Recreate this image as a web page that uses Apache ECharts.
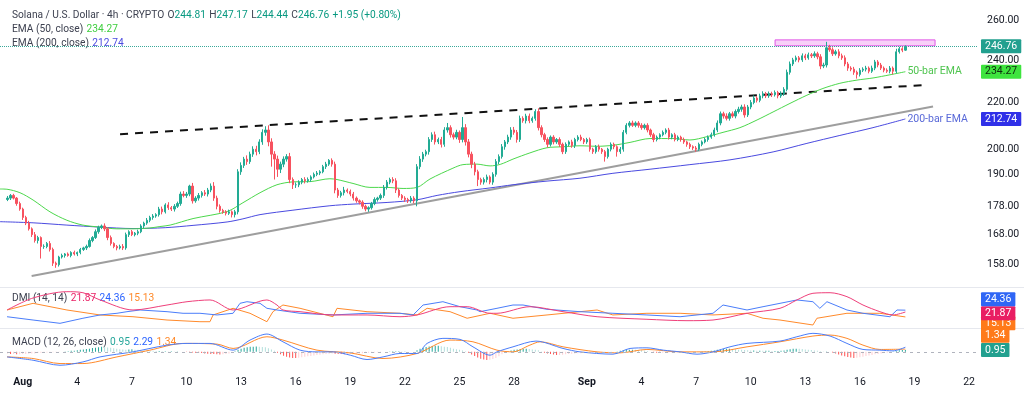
<!DOCTYPE html>
<html><head><meta charset="utf-8">
<script src="https://cdn.jsdelivr.net/npm/echarts@6/dist/echarts.min.js"></script>
<style>html,body{margin:0;padding:0;background:#fff}#c{width:1024px;height:394px}</style>
</head><body><div id="c"></div>
<script>
// ---------- DATA (days since Aug 1 00:00, 4h candles) ----------
const firstTime = -5/6;
const barStep = 1/6;
const firstOpen = 180.5;
const closes = [
181,182,181,179,177,174,
172,170,168,166,167,164,
164,165,163,158.5,158,160.5,
161,161.5,161,162,161.5,162,
163,163.5,164,166,167,169,
170.5,171,170,167,165,164,
163.5,164,163.5,168,169,168,
168.5,169,171,172,173,174,
174.5,175,177,176,178.5,177.5,
177,178,179,182.5,182,182.5,
185.5,180,181,182,183,182.5,
184,185.5,181,178,176.5,176,
175.5,176,175,176,191,193.5,
196,195,198,200,199,203,
207,208,203,198,196,192,
194,196,197,188,186,186,
187,188,187.5,188,189,190,
190.5,191,193,194,195.5,194,
184,182,183,184,183.5,182.5,
181,180,179.5,178,177,177.5,
179,180.5,181,182,185,187,
188,187.5,184,182,181,180.5,
180,181,180,193,196,198,
199,204,206,203,204,202,
208,209,206,205,207,204,
209,203,198,194,191,188,
187,188,189,187,190,195,
197,201,203,205,208,207,
204,213,212,214,212,213,
216,209,206,204,202,205,
203,204,202,199,202,203,
201.5,204,205,204,203,204,
200,199,201,200,199,197,
200,202,201,199,200,207,
210,211,210,211,210,209,
210,208,206,204,205,206,
207,208,205,206,204,205,
204,203,202,201,200.5,200,
202,203,204,205,206,208,
211,215,214,213,215,214,
216,217,218,214.5,218,220,
222,221,223,224,223,224,
223.5,224.5,223,224,226,234,
238,240,241,240,242,241,
242.5,242,243,241.5,237,237.5,
246,245,243,244,242,241,
238,236,235.5,234,233,235,
235.5,236,234.5,236,239,237.5,
236,235,234.5,236,234.5,244,
245.5,244.81,246.76
];
const upWick = [
0.8,0.5,0.6,0.4,0.7,0.5, 0.6,0.8,0.5,0.9,0.6,0.4, 0.7,0.5,0.8,0.6,0.5,0.4,
0.6,0.3,0.5,0.4,0.6,0.3, 0.5,0.4,0.6,0.7,0.5,0.8, 0.6,0.5,0.9,0.6,0.7,0.4,
0.5,0.6,0.8,0.7,0.5,0.6, 0.4,0.7,0.6,0.5,0.8,0.6, 0.7,0.5,0.8,0.9,0.6,1.0,
0.6,0.8,0.7,0.9,1.1,0.8, 0.5,1.2,0.7,0.9,0.6,1.0, 0.8,1.0,1.5,0.9,0.7,0.6,
0.6,0.8,0.5,0.7,1.0,1.2, 0.9,1.5,1.0,1.2,1.4,1.1, 1.3,1.6,2.0,1.5,1.2,1.4,
1.0,1.1,1.0,1.5,0.8,0.9, 0.7,0.6,0.9,0.8,0.6,0.7, 0.8,0.6,0.7,0.9,0.5,0.8,
1.0,0.8,0.7,1.2,0.6,0.7, 0.8,0.6,0.5,0.7,0.6,0.5, 0.6,0.8,0.5,0.7,0.9,0.8,
0.7,0.9,1.0,0.6,0.5,0.7, 0.6,0.8,0.7,1.0,1.2,0.9, 0.8,1.0,1.0,1.3,0.8,1.1,
1.2,2.0,1.0,0.9,1.1,0.8, 4.6,1.5,1.2,1.0,0.9,0.8, 0.7,0.8,0.9,0.6,0.8,1.0,
0.9,1.1,0.8,1.0,1.2,1.3, 1.0,1.2,0.9,1.0,1.1,0.8, 1.0,1.4,1.0,0.8,0.9,0.7,
0.8,0.6,0.9,0.7,0.8,0.6, 0.9,0.7,0.8,1.0,0.6,0.7, 0.8,0.6,0.7,0.9,0.5,0.7,
0.6,0.8,0.7,0.6,0.9,1.0, 0.9,0.8,1.0,0.7,0.8,0.9, 0.7,0.9,0.6,0.8,0.7,0.6,
0.8,0.7,0.9,0.6,0.8,0.7, 0.6,0.8,0.5,0.7,0.6,0.8, 0.7,0.6,0.8,0.7,0.9,1.0,
1.1,1.0,0.9,1.2,0.8,1.0, 0.9,1.1,1.0,1.2,0.9,1.1, 1.2,0.9,1.0,1.1,0.8,1.0,
0.9,1.0,0.8,1.1,1.0,1.3, 1.2,1.0,1.1,0.9,1.2,1.0, 1.1,0.9,1.2,1.0,1.3,1.1,
3.0,1.5,1.2,1.0,1.3,1.1, 1.2,1.0,0.9,1.1,0.8,1.0, 0.9,1.1,0.8,1.2,1.0,0.9,
1.0,0.8,0.9,1.0,0.8,1.5, 1.0,0.8,0.41
];
const downWick = [
0.6,0.7,0.5,0.8,0.6,0.9, 0.7,0.6,0.8,0.7,1.0,4.0, 0.8,0.6,0.7,0.9,1.0,0.6,
0.5,0.7,0.4,0.6,0.5,0.7, 0.6,0.5,0.7,0.4,0.6,0.5, 0.7,0.6,0.8,0.9,0.7,0.6,
0.8,0.5,0.7,0.6,0.8,0.5, 0.6,0.7,0.5,0.8,0.6,0.7, 0.8,0.6,0.7,0.9,0.6,0.8,
0.7,0.9,0.6,0.8,0.7,0.9, 0.8,1.0,0.7,0.9,0.8,0.7, 0.9,0.8,1.0,1.1,0.8,0.7,
0.8,0.6,1.0,1.0,0.9,1.2, 1.0,1.3,0.9,1.1,1.5,1.0, 1.2,1.4,1.8,5.0,8.0,3.0,
1.5,1.2,1.0,1.4,1.6,1.2, 0.9,0.8,1.0,0.7,0.9,0.6, 0.7,0.8,0.6,0.9,0.7,1.0,
1.2,0.9,0.8,1.0,0.7,0.8, 0.9,0.7,0.8,0.9,0.8,1.0, 0.7,0.6,0.8,0.7,0.9,0.8,
0.8,0.9,1.1,0.8,0.7,0.9, 0.8,0.7,0.9,2.0,1.0,1.1, 0.9,1.2,1.0,1.1,0.9,1.3,
1.0,1.1,1.2,1.0,0.9,1.4, 1.2,1.5,1.3,1.6,1.4,2.5, 1.0,0.9,1.1,0.8,1.0,0.9,
1.0,0.8,1.2,0.9,1.1,1.0, 1.3,1.0,0.9,1.2,1.1,0.9, 1.0,1.2,1.1,1.0,1.3,0.9,
1.0,0.8,1.1,1.0,0.9,0.8, 0.9,1.0,0.8,0.7,0.9,0.8, 1.0,0.9,0.8,1.0,0.9,2.0,
0.8,0.9,1.0,2.0,0.9,1.0, 0.8,0.9,0.7,0.8,1.0,0.9, 0.8,1.0,0.9,1.1,0.8,0.9,
0.7,0.8,1.0,0.9,0.8,0.7, 0.9,0.8,1.0,0.9,0.8,1.0, 0.7,0.8,0.6,0.9,0.7,0.8,
0.9,1.0,1.1,0.9,1.0,0.8, 1.0,0.9,1.1,1.2,0.9,1.0, 0.8,1.0,0.9,1.1,1.0,0.9,
1.0,0.8,1.1,0.9,1.0,0.9, 1.1,1.0,0.9,1.2,1.0,1.1, 0.9,1.1,1.0,1.2,1.5,1.0,
1.2,1.0,1.1,0.9,1.2,1.0, 1.1,1.3,1.0,1.2,2.0,1.0, 0.9,1.1,1.0,0.8,1.0,1.1,
0.9,1.0,0.8,1.0,1.5,1.0, 0.9,1.0,0.37
];
const ema50 = [[-1.25,184.4],[-0.86,184.3],[-0.15,183],[0.57,180.3],[1.5,176],[2.43,173],[3.31,171.3],[4.25,170.6],[5.18,170],[6.06,170],[6.99,170.3],[7.54,170.8],[8.1,171.3],[9.36,173.6],[11.23,176.1],[12.1,179.3],[13.04,183],[13.97,186],[14.85,187.1],[15.79,187.2],[16.88,188.3],[17.27,188],[18.15,186.5],[19.08,185],[20.02,185],[20.9,184.6],[21.67,185],[22.38,188.2],[23.64,192.4],[24.19,193.8],[24.96,194],[25.68,193.3],[26.24,193.9],[26.94,196],[27.87,198.5],[28.81,200.6],[29.69,201],[30.62,201.4],[31.56,201.2],[32.43,201.6],[33.37,202.8],[34.47,204.4],[35.73,204.4],[36.66,203.8],[37.6,205.2],[38.48,207],[39.41,209],[40.35,212.3],[41.23,215.8],[42.16,219.6],[43.09,223.3],[43.97,226.4],[44.9,228.8],[45.84,230.3],[46.72,231.3],[47.65,232.8],[48.5,234.27]];
const ema200 = [[-1.25,172.5],[0.57,172.1],[2.43,171.3],[4.25,170.6],[6.06,170.1],[7.83,170.4],[9.36,171.2],[11.23,172.4],[12.1,173.5],[13.04,175],[14.85,176.6],[16.88,178.2],[18.15,178.8],[20.02,179.4],[21.67,180.4],[22.77,182],[24.03,183.4],[25.68,184.8],[26.94,186],[28.81,187.4],[30.62,188.5],[32.43,190.4],[34.47,192],[36.66,193.8],[38.86,195.7],[41.23,198.9],[43.09,202.4],[44.9,205.7],[46.72,209],[48.5,212.74]];
const adx = [[-0.86,24.6],[0.57,41],[2.43,49.6],[3.31,48.2],[4.25,38.3],[6.06,24.6],[7.93,31.4],[9.03,35.9],[10.29,38.3],[11.56,24.6],[13.42,38.3],[13.97,31.4],[14.3,24.6],[15.24,22.3],[17.05,17.8],[18.92,17.8],[20.73,15.4],[21.67,17.8],[23.48,29.1],[24.42,29.1],[25.68,20.1],[26.06,20.1],[27.87,29.1],[29.69,22.3],[31.56,15.4],[34.3,11.9],[36.5,10],[37.93,10.9],[39.8,20.1],[41.61,26.9],[42.54,38.3],[43.42,47.4],[44.36,48.2],[45.29,42.8],[46.17,31.4],[47.1,22.3],[47.82,17.8],[48.5,21.87]];
const plusDI = [[-0.86,15.4],[0.57,10.9],[2.05,6.4],[3.31,13.3],[4.25,17.8],[5.18,20.1],[5.73,22.3],[6.45,24.6],[7.93,22.3],[8.81,20.1],[9.74,20.1],[10.68,17.8],[11.56,20.1],[11.94,33.7],[12.32,35.9],[13.04,33.7],[13.42,26.9],[13.97,24.6],[15.24,20.1],[17.05,17.8],[18.92,20.1],[20.73,20.1],[21.45,17.8],[22.0,31.4],[23.09,35.9],[24.03,29.1],[24.96,24.6],[25.13,22.3],[26.06,26.9],[26.94,31.4],[27.49,31.4],[28.81,25.5],[30.62,22.3],[32.43,20.1],[34.3,17.8],[36.12,15.4],[37.93,20.1],[38.48,31.4],[39.8,24.6],[40.68,29.1],[42.54,38.3],[43.42,35.9],[43.8,26.9],[44.19,35.9],[45.29,24.6],[46.17,20.1],[47.65,15.4],[48.04,24.6],[48.5,24.36]];
const minusDI = [[-0.86,24.6],[0.57,33.7],[2.43,24.6],[4.25,17.8],[6.06,15.4],[7.93,10.9],[9.74,8.6],[10.29,8.6],[10.46,17.8],[11.56,26.9],[12.49,20.1],[13.42,8.6],[13.75,22.3],[14.3,31.4],[15.24,26.9],[17.05,15.4],[17.27,26.9],[18.92,22.3],[20.73,20.1],[21.67,17.8],[22.22,26.9],[23.48,22.3],[24.42,13.3],[25.68,20.1],[26.94,13.3],[28.81,17.8],[30.62,22.3],[31.56,24.6],[32.43,17.8],[34.3,20.1],[36.12,20.1],[37.93,17.8],[39.8,20.1],[40.68,13.3],[41.61,10.9],[43.42,4.1],[43.64,13.3],[45.29,20.1],[47.1,20.1],[48.5,15.13]];
const macdLine = [[-0.86,-2.5],[0.57,-4.15],[2.05,-6.65],[3.31,-5],[4.25,-2.5],[6.06,0],[7.93,3.35],[9.03,4.2],[10.29,4.2],[11.56,0.85],[12.49,5.85],[13.42,8.85],[14.3,5],[15.24,0.85],[16.17,0],[17.05,0],[18.0,-1.65],[18.92,-3.8],[19.8,-2.5],[20.73,-0.8],[21.67,-0.8],[22.22,4.2],[23.09,6.7],[24.03,6.2],[24.74,2.5],[25.68,-1.65],[26.06,0],[26.94,2.5],[28.2,5.35],[29.69,1.7],[30.62,0],[32.43,-1.15],[33.37,1.7],[34.3,2],[35.2,0.85],[36.12,0],[37.05,-1.15],[37.93,0],[38.86,2.5],[39.8,4.2],[41.61,5.35],[42.54,7.5],[43.42,9.2],[44.36,7.85],[45.29,4.2],[46.17,1.2],[47.1,0.85],[47.82,0.5],[48.5,2.29]];
const signalLine = [[-0.86,-2.5],[0.57,-3.3],[2.05,-5.8],[3.31,-5.8],[5.18,-2.5],[6.99,0.85],[8.81,4.2],[10.68,3.85],[11.56,1.7],[13.42,7.5],[14.3,5.85],[16.17,0.85],[17.98,-0.5],[19.8,-3.3],[21.67,-0.8],[23.48,5.85],[24.74,5],[26.06,0.85],[26.94,0],[27.87,3.35],[28.43,5],[29.69,2.5],[31.56,0],[32.82,-0.5],[34.3,1.2],[36.12,0],[37.93,0],[39.8,2.5],[41.61,5],[43.42,7.85],[44.36,8.35],[45.29,6.7],[46.17,3.35],[47.1,1.2],[48.5,1.34]];
const macdHist = [
-0.8,-1,-1,-1.2,-1.2,-1, -1,-0.9,-0.8,-0.8,-0.6,-0.5, -0.4,-0.3,-0.3,-0.2,-0.2,-0.1,
0.1,0.2,0.3,0.5,0.6,0.8, 1,1.2,1.4,1.6,1.9,2.1, 2.3,2.5,2.4,2.2,2,1.8,
1.5,1.3,1.2,1.1,1.2,1.3, 1.1,1,0.9,0.8,0.7,0.6, 0.5,0.4,0.4,0.3,0.3,0.2,
0.3,0.2,0.2,0.1,0.1,-0.1, -0.2,-0.3,-0.4,-0.5,-0.6,-0.8, -0.9,-1,-1.1,-1.2,-1.3,-1.2,
-1,-0.8,-0.6,0.3,1,1.6, 2,2.3,2.5,2.6,2.7,2.6, 2.4,2.3,1.8,1.2,0.6,-0.4,
-1.2,-1.9,-2.4,-2.8,-3,-3.1, -2.9,-2.7,-2.4,-2.2,-2,-1.8, -1.6,-1.4,-1.2,-1,-0.9,-0.8,
-0.9,-1,-1.1,-1.2,-1.2,-1.1, -1,-0.9,-0.8,-0.7,-0.6,-0.5, -0.4,-0.3,-0.2,-0.1,0,0.1,
0.2,0.3,0.3,0.3,0.2,0.2, 0.1,0.1,0.1,0.8,1.5,2, 2.4,2.7,2.9,3,3,2.8,
2.6,2.4,2,1.6,1.3,1, 0.7,0.3,-0.5,-1.3,-2.1,-2.8, -3.4,-3.8,-4,-3.9,-3.6,-3,
-2.2,-1.2,-0.3,0.3,0.7,1, 1.2,1.4,1.5,1.5,1.4,1.2, 1,0.8,0.2,-0.4,-0.8,-1.1,
-1.3,-1.5,-1.5,-1.4,-1.2,-1, -0.9,-0.8,-0.7,-0.7,-0.6,-0.6, -0.5,-0.5,-0.5,-0.4,-0.4,-0.3,
-0.2,-0.1,0.1,0.2,0.5,0.8, 1,1.1,1.1,1,0.9,0.8, 0.6,0.4,0.1,-0.2,-0.4,-0.5,
-0.5,-0.4,-0.3,-0.3,-0.2,-0.2, -0.3,-0.3,-0.2,-0.2,-0.1,-0.1, 0.1,0.2,0.3,0.4,0.5,0.7,
1,1.2,1.4,1.5,1.5,1.4, 1.3,1.1,1,0.9,0.8,0.7, 0.7,0.6,0.6,0.5,0.5,0.5,
0.4,0.4,0.4,0.5,0.7,1, 1.3,1.5,1.6,1.5,1.4,1.2, 1,0.9,0.7,0.5,0.3,0.2,
0.2,0.1,-0.3,-0.8,-1.3,-1.8, -2.2,-2.6,-2.8,-3,-2.9,-2.7, -2.4,-2.1,-1.8,-1.5,-1.2,-1,
-0.8,-0.6,-0.4,-0.2,0.2,0.5, 0.8,0.9,0.95
];
const tickDays = [0,3,6,9,12,15,18,21,24,27,31,34,37,40,43,46,49,52];
const tickLabels = ['Aug','4','7','10','13','16','19','22','25','28','Sep','4','7','10','13','16','19','22'];
const priceTicks = [158,168,178,190,200,220,240,260];
const resistanceLine = [[5.35,206.2],[49.57,228.0]];
const supportLine = [[0.49,154.4],[50.02,218.2]];
const resistZone = [[41.34,250],[50.13,247]];
const lastOHLC = [244.81,247.17,244.44,246.76];
const lastChange = [1.95,0.80];
const emaLast = [234.27,212.74];
const dmiLast = [21.87,24.36,15.13];   // ADX, +DI, -DI
const macdLast = [0.95,2.29,1.34];     // hist, MACD, signal

// ---------- BUILD ----------
const FONT = 'Roboto, "Noto Sans", sans-serif';
const TXT = '#3d4150';
const FS = 10.2;
const UP = '#22ab94', DOWN = '#f7525f';
const candles = closes.map((c,i)=>{
  const o = i===0 ? firstOpen : closes[i-1];
  return [firstTime+i*barStep, o, c, Math.min(o,c)-downWick[i], Math.max(o,c)+upWick[i]];
});
const hist = macdHist.map((v,i)=>{
  const p = i>0 ? macdHist[i-1] : v;
  const col = v>=0 ? (v>=p ? '#26a69a' : '#b2dfdb') : (v<p ? '#ff5252' : '#ffcdd2');
  return {value:[firstTime+i*barStep, v], itemStyle:{color:col}};
});
function tag(val, name, bg, fg){
  return {yAxis: val, name: name,
    label:{show:true, position:'end', distance:3, formatter:'{b}', backgroundColor:bg, color:fg||'#fff',
      padding:[2,4,1,4], fontSize:10.5, fontFamily:FONT, borderRadius:1}};
}
function tagLine(items){
  return {silent:true, symbol:'none', animation:false, lineStyle:{width:0, color:'rgba(0,0,0,0)'}, data:items};
}
const X_MIN = -1.247, X_MAX = 52.49;
const grids = [
  {left:0, right:46, top:0, height:287},
  {left:0, right:46, top:287, height:41},
  {left:0, right:46, top:328, height:43}
];
function xa(i, labels){
  return {type:'value', gridIndex:i, min:X_MIN, max:X_MAX, axisLine:{show:false}, axisTick:{show:false}, splitLine:{show:false},
    axisLabel: labels ? {show:true, customValues:tickDays, margin:6, fontSize:10.5, color:'#131722', fontFamily:FONT,
      formatter:(v)=>{const k=tickDays.indexOf(Math.round(v)); const t=k>=0?tickLabels[k]:''; return (t==='Aug'||t==='Sep')?'{m|'+t+'}':t;},
      rich:{m:{fontWeight:'bold', fontSize:10.5, color:'#131722', fontFamily:FONT}}} : {show:false}};
}
function rt(fill){ return {fill:fill, fontSize:FS, fontFamily:FONT}; }
const option = {
  animation:false,
  backgroundColor:'#ffffff',
  grid: grids,
  xAxis:[xa(0,false), xa(1,false), xa(2,true)],
  yAxis:[
    {type:'log', gridIndex:0, position:'right', min:150.97, max:271.2, axisLine:{show:false}, axisTick:{show:false}, splitLine:{show:false},
     axisLabel:{show:true, customValues:priceTicks, margin:9, fontSize:10.5, color:'#131722', fontFamily:FONT, formatter:(v)=>Number(v).toFixed(2)}},
    {type:'value', gridIndex:1, min:0, max:56, show:false},
    {type:'value', gridIndex:2, min:-9.5, max:11.85, show:false}
  ],
  series:[
    {type:'line', xAxisIndex:0, yAxisIndex:0, data:supportLine, symbol:'none', silent:true, lineStyle:{color:'#9e9e9e', width:2}, z:2},
    {type:'line', xAxisIndex:0, yAxisIndex:0, data:resistanceLine, symbol:'none', silent:true, lineStyle:{color:'#111', width:2, type:[8,7]}, z:2},
    {type:'line', xAxisIndex:0, yAxisIndex:0, data:ema200, symbol:'none', smooth:0.3, silent:true, clip:false,
     lineStyle:{color:'#4a4ae0', width:1}, z:3,
     endLabel:{show:true, formatter:'200-bar EMA', color:'#5868d8', fontSize:10.5, fontFamily:FONT, distance:2},
     markLine: tagLine([tag(emaLast[1], emaLast[1].toFixed(2), '#3030e8')])},
    {type:'line', xAxisIndex:0, yAxisIndex:0, data:ema50, symbol:'none', smooth:0.3, silent:true, clip:false,
     lineStyle:{color:'#4cd84c', width:1}, z:3,
     endLabel:{show:true, formatter:'50-bar EMA', color:'#4fc44f', fontSize:10.5, fontFamily:FONT, distance:2},
     markLine: tagLine([tag(emaLast[0], emaLast[0].toFixed(2), '#3ee43e', '#0d2b0d')])},
    {type:'candlestick', xAxisIndex:0, yAxisIndex:0, data:candles, encode:{x:0, y:[1,2,3,4]}, barWidth:1.8, clip:false, silent:true, z:4,
     itemStyle:{color:UP, color0:DOWN, borderColor:UP, borderColor0:DOWN, borderWidth:1},
     markArea:{silent:true, itemStyle:{color:'rgba(236,120,236,0.35)', borderColor:'#e056e6', borderWidth:1},
       data:[[{coord:resistZone[0]},{coord:resistZone[1]}]]},
     markLine:{silent:true, symbol:'none', animation:false, lineStyle:{type:'dotted', color:'#3aa89a', width:1},
       data:[tag(lastOHLC[3], lastOHLC[3].toFixed(2), '#22a08f')]}},
    // DMI
    {type:'line', xAxisIndex:1, yAxisIndex:1, data:minusDI, symbol:'none', silent:true, clip:false, lineStyle:{color:'#ff8a2b', width:1}},
    {type:'line', xAxisIndex:1, yAxisIndex:1, data:plusDI, symbol:'none', silent:true, clip:false, lineStyle:{color:'#4a7dfa', width:1}},
    {type:'line', xAxisIndex:1, yAxisIndex:1, data:adx, symbol:'none', smooth:0.3, silent:true, clip:false, lineStyle:{color:'#ef3f7a', width:1},
     markLine: tagLine([tag(6.5, dmiLast[2].toFixed(2), '#ff7a1a'), tag(20.1, dmiLast[0].toFixed(2), '#e91e63'), tag(39.2, dmiLast[1].toFixed(2), '#2f66f5')])},
    // MACD
    {type:'bar', xAxisIndex:2, yAxisIndex:2, data:hist, barWidth:1, silent:true, clip:false,
     markLine:{silent:true, symbol:'none', animation:false, lineStyle:{type:[3,4], color:'#b0b3bd', width:1},
       data:[{yAxis:0, label:{show:false}}]}},
    {type:'line', xAxisIndex:2, yAxisIndex:2, data:signalLine, symbol:'none', smooth:0.3, silent:true, lineStyle:{color:'#ff8a2b', width:1}},
    {type:'line', xAxisIndex:2, yAxisIndex:2, data:macdLine, symbol:'none', smooth:0.3, silent:true, clip:false, lineStyle:{color:'#4a7dfa', width:1},
     markLine: tagLine([tag(8.0, macdLast[2].toFixed(2), '#ff7a1a'), tag(macdLast[0], macdLast[0].toFixed(2), '#22a08f')])}
  ],
  graphic:[
    {type:'line', shape:{x1:0, y1:287.5, x2:1024, y2:287.5}, style:{stroke:'#e6e8ee', lineWidth:1}, silent:true},
    {type:'line', shape:{x1:0, y1:328.5, x2:1024, y2:328.5}, style:{stroke:'#e6e8ee', lineWidth:1}, silent:true},
    {type:'text', left:12, top:9, silent:true, style:{
      text:'{t|Solana / U.S. Dollar · 4h · CRYPTO} {t|O}{v|'+lastOHLC[0].toFixed(2)+'} {t|H}{v|'+lastOHLC[1].toFixed(2)+'} {t|L}{v|'+lastOHLC[2].toFixed(2)+'} {t|C}{v|'+lastOHLC[3].toFixed(2)+'} {v|+'+lastChange[0].toFixed(2)+' (+'+lastChange[1].toFixed(2)+'%)}',
      rich:{t:rt(TXT), v:rt('#089981')}}},
    {type:'text', left:12, top:23, silent:true, style:{
      text:'{t|EMA (50, close)} {v|'+emaLast[0].toFixed(2)+'}',
      rich:{t:rt(TXT), v:rt('#3fce3f')}}},
    {type:'text', left:12, top:37, silent:true, style:{
      text:'{t|EMA (200, close)} {v|'+emaLast[1].toFixed(2)+'}',
      rich:{t:rt(TXT), v:rt('#4a4ae0')}}},
    {type:'text', left:12, top:292, silent:true, style:{
      text:'{t|DMI (14, 14)} {p|'+dmiLast[0].toFixed(2)+'} {b|'+dmiLast[1].toFixed(2)+'} {o|'+dmiLast[2].toFixed(2)+'}',
      rich:{t:rt(TXT), p:rt('#e91e63'), b:rt('#2962ff'), o:rt('#ff8a2b')}}},
    {type:'text', left:12, top:336, silent:true, style:{
      text:'{t|MACD (12, 26, close)} {h|'+macdLast[0].toFixed(2)+'} {b|'+macdLast[1].toFixed(2)+'} {o|'+macdLast[2].toFixed(2)+'}',
      rich:{t:rt(TXT), h:rt('#26a69a'), b:rt('#2962ff'), o:rt('#ff8a2b')}}}
  ]
};
const chart = echarts.init(document.getElementById('c'), null, {renderer:'canvas', width:1024, height:394});
chart.setOption(option);
</script></body></html>
